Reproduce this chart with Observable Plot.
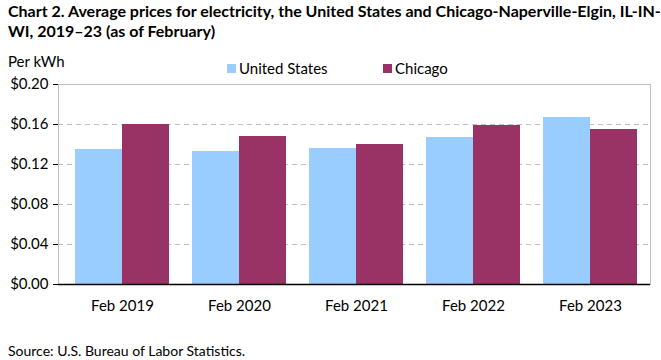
<!DOCTYPE html>
<html><head><meta charset="utf-8">
<script src="https://cdn.jsdelivr.net/npm/d3@7"></script>
<script src="https://cdn.jsdelivr.net/npm/@observablehq/plot@0.6"></script>
<style>
body{margin:0;background:#fff;font-family:Lato,"Open Sans",sans-serif;color:#000;}
#wrap{position:relative;width:661px;height:360px;overflow:hidden;}
#title{position:absolute;left:8px;top:1px;font-weight:bold;font-size:16px;line-height:20px;white-space:nowrap;z-index:2;}
#unit{position:absolute;left:8px;top:52px;font-size:15px;z-index:2;}
.leg{position:absolute;top:59px;font-size:15px;display:flex;align-items:center;z-index:2;}
.sw{display:inline-block;width:9px;height:9px;margin-right:3px;}
#chart{position:absolute;left:0;top:44px;z-index:1;}
#source{position:absolute;left:8px;top:342px;font-size:14px;z-index:2;}
</style></head>
<body><div id="wrap">
<div id="title">Chart 2. Average prices for electricity, the United States and Chicago-Naperville-Elgin, IL-IN-<br>WI, 2019–23 (as of February)</div>
<div id="unit">Per kWh</div>
<div class="leg" style="left:227px"><span class="sw" style="background:#99ccff"></span>United States</div>
<div class="leg" style="left:383px"><span class="sw" style="background:#993366"></span>Chicago</div>
<div id="chart"></div>
<div id="source">Source: U.S. Bureau of Labor Statistics.</div>
</div>
<script>
const years = ["Feb 2019", "Feb 2020", "Feb 2021", "Feb 2022", "Feb 2023"];
const unitedStates = [0.135, 0.133, 0.136, 0.147, 0.167];
const chicago = [0.160, 0.148, 0.140, 0.159, 0.155];
const yTicks = [0, 0.04, 0.08, 0.12, 0.16, 0.20];

const data = years.map((y, i) => ({year: y, us: unitedStates[i], chicago: chicago[i]}));

const chart = Plot.plot({
  width: 661, height: 300,
  marginLeft: 58, marginRight: 11, marginTop: 40, marginBottom: 60,
  style: {fontFamily: "Lato, 'Open Sans', sans-serif", fontSize: "15px", color: "#000", background: "transparent"},
  x: {domain: years, paddingInner: 0.2, paddingOuter: 0.12, align: 0.57, label: null, tickSize: 0, tickPadding: 16},
  y: {domain: [0, 0.2], ticks: yTicks, tickFormat: d => "$" + d.toFixed(2), label: null, tickSize: 5, tickPadding: 5, line: true},
  marks: [
    Plot.frame({stroke: "#bfbfbf"}),
    Plot.ruleY(yTicks.slice(1, -1), {stroke: "#bfbfbf", strokeDasharray: "5,4"}),
    Plot.barY(data, {x: "year", y: "us", fill: "#99ccff", insetRight: 47}),
    Plot.barY(data, {x: "year", y: "chicago", fill: "#993366", insetLeft: 47}),
    Plot.ruleY([0], {stroke: "#000", strokeWidth: 1.5})
  ]
});
document.getElementById("chart").appendChild(chart);
</script>
</body></html>
